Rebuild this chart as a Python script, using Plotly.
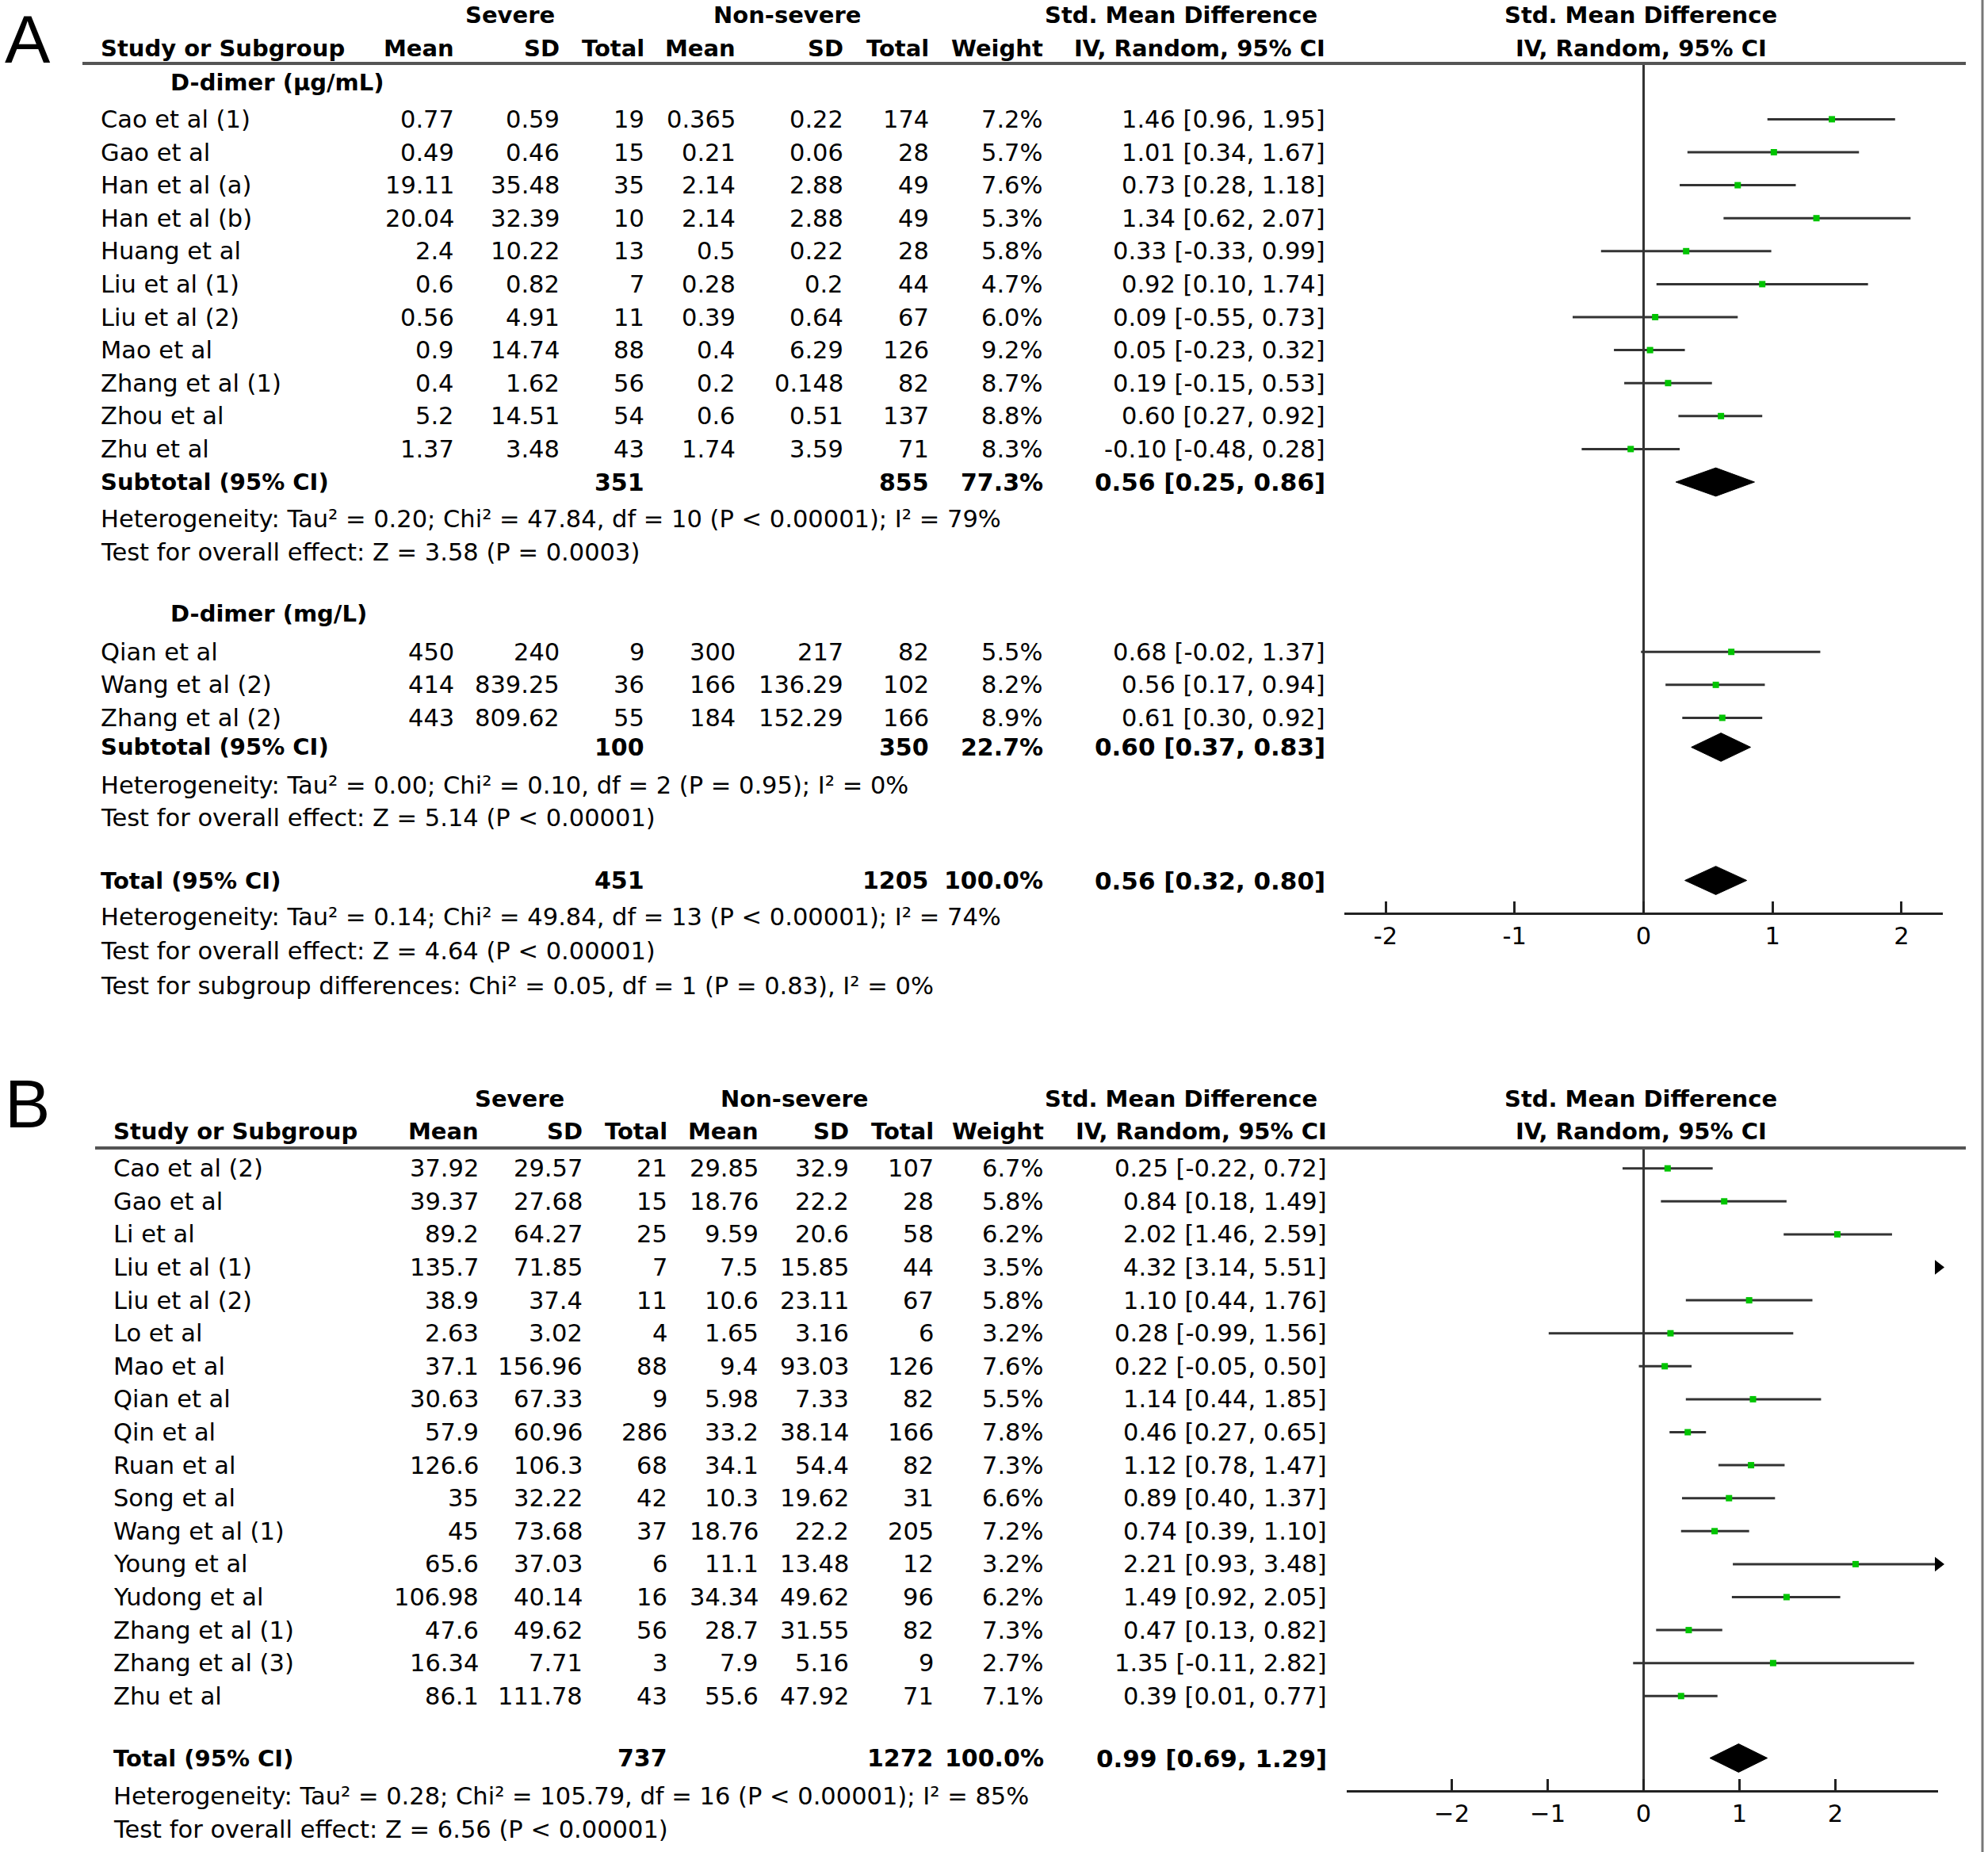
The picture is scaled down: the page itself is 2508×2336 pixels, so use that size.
import plotly.graph_objects as go

W, H = 2508, 2336
FONT = "DejaVu Sans"
FS = 30.5      # regular text
FSB = 29       # bold text

# ---------------- Panel A data : D-dimer ----------------
a1_study = ["Cao et al (1)", "Gao et al", "Han et al (a)", "Han et al (b)", "Huang et al",
            "Liu et al (1)", "Liu et al (2)", "Mao et al", "Zhang et al (1)", "Zhou et al", "Zhu et al"]
a1_sev_mean = [0.77, 0.49, 19.11, 20.04, 2.4, 0.6, 0.56, 0.9, 0.4, 5.2, 1.37]
a1_sev_sd = [0.59, 0.46, 35.48, 32.39, 10.22, 0.82, 4.91, 14.74, 1.62, 14.51, 3.48]
a1_sev_n = [19, 15, 35, 10, 13, 7, 11, 88, 56, 54, 43]
a1_non_mean = [0.365, 0.21, 2.14, 2.14, 0.5, 0.28, 0.39, 0.4, 0.2, 0.6, 1.74]
a1_non_sd = [0.22, 0.06, 2.88, 2.88, 0.22, 0.2, 0.64, 6.29, 0.148, 0.51, 3.59]
a1_non_n = [174, 28, 49, 49, 28, 44, 67, 126, 82, 137, 71]
a1_weight = [7.2, 5.7, 7.6, 5.3, 5.8, 4.7, 6.0, 9.2, 8.7, 8.8, 8.3]
a1_smd = [1.46, 1.01, 0.73, 1.34, 0.33, 0.92, 0.09, 0.05, 0.19, 0.60, -0.10]
a1_lo = [0.96, 0.34, 0.28, 0.62, -0.33, 0.10, -0.55, -0.23, -0.15, 0.27, -0.48]
a1_hi = [1.95, 1.67, 1.18, 2.07, 0.99, 1.74, 0.73, 0.32, 0.53, 0.92, 0.28]
a1_sub_n = [351, 855]
a1_sub_weight = 77.3
a1_sub_ci = [0.56, 0.25, 0.86]
a1_het = "Heterogeneity: Tau² = 0.20; Chi² = 47.84, df = 10 (P < 0.00001); I² = 79%"
a1_test = "Test for overall effect: Z = 3.58 (P = 0.0003)"

a2_study = ["Qian et al", "Wang et al (2)", "Zhang et al (2)"]
a2_sev_mean = [450, 414, 443]
a2_sev_sd = [240, 839.25, 809.62]
a2_sev_n = [9, 36, 55]
a2_non_mean = [300, 166, 184]
a2_non_sd = [217, 136.29, 152.29]
a2_non_n = [82, 102, 166]
a2_weight = [5.5, 8.2, 8.9]
a2_smd = [0.68, 0.56, 0.61]
a2_lo = [-0.02, 0.17, 0.30]
a2_hi = [1.37, 0.94, 0.92]
a2_sub_n = [100, 350]
a2_sub_weight = 22.7
a2_sub_ci = [0.60, 0.37, 0.83]
a2_het = "Heterogeneity: Tau² = 0.00; Chi² = 0.10, df = 2 (P = 0.95); I² = 0%"
a2_test = "Test for overall effect: Z = 5.14 (P < 0.00001)"

a_tot_n = [451, 1205]
a_tot_weight = 100.0
a_tot_ci = [0.56, 0.32, 0.80]
a_tot_text = ["Heterogeneity: Tau² = 0.14; Chi² = 49.84, df = 13 (P < 0.00001); I² = 74%",
              "Test for overall effect: Z = 4.64 (P < 0.00001)",
              "Test for subgroup differences: Chi² = 0.05, df = 1 (P = 0.83), I² = 0%"]
a_ticks = [-2, -1, 0, 1, 2]
a_ticktext = ["-2", "-1", "0", "1", "2"]

# ---------------- Panel B data ----------------
b_study = ["Cao et al (2)", "Gao et al", "Li et al", "Liu et al (1)", "Liu et al (2)", "Lo et al",
           "Mao et al", "Qian et al", "Qin et al", "Ruan et al", "Song et al", "Wang et al (1)",
           "Young et al", "Yudong et al", "Zhang et al (1)", "Zhang et al (3)", "Zhu et al"]
b_sev_mean = [37.92, 39.37, 89.2, 135.7, 38.9, 2.63, 37.1, 30.63, 57.9, 126.6, 35, 45,
              65.6, 106.98, 47.6, 16.34, 86.1]
b_sev_sd = [29.57, 27.68, 64.27, 71.85, 37.4, 3.02, 156.96, 67.33, 60.96, 106.3, 32.22, 73.68,
            37.03, 40.14, 49.62, 7.71, 111.78]
b_sev_n = [21, 15, 25, 7, 11, 4, 88, 9, 286, 68, 42, 37, 6, 16, 56, 3, 43]
b_non_mean = [29.85, 18.76, 9.59, 7.5, 10.6, 1.65, 9.4, 5.98, 33.2, 34.1, 10.3, 18.76,
              11.1, 34.34, 28.7, 7.9, 55.6]
b_non_sd = [32.9, 22.2, 20.6, 15.85, 23.11, 3.16, 93.03, 7.33, 38.14, 54.4, 19.62, 22.2,
            13.48, 49.62, 31.55, 5.16, 47.92]
b_non_n = [107, 28, 58, 44, 67, 6, 126, 82, 166, 82, 31, 205, 12, 96, 82, 9, 71]
b_weight = [6.7, 5.8, 6.2, 3.5, 5.8, 3.2, 7.6, 5.5, 7.8, 7.3, 6.6, 7.2, 3.2, 6.2, 7.3, 2.7, 7.1]
b_smd = [0.25, 0.84, 2.02, 4.32, 1.10, 0.28, 0.22, 1.14, 0.46, 1.12, 0.89, 0.74, 2.21, 1.49,
         0.47, 1.35, 0.39]
b_lo = [-0.22, 0.18, 1.46, 3.14, 0.44, -0.99, -0.05, 0.44, 0.27, 0.78, 0.40, 0.39, 0.93, 0.92,
        0.13, -0.11, 0.01]
b_hi = [0.72, 1.49, 2.59, 5.51, 1.76, 1.56, 0.50, 1.85, 0.65, 1.47, 1.37, 1.10, 3.48, 2.05,
        0.82, 2.82, 0.77]
b_tot_n = [737, 1272]
b_tot_weight = 100.0
b_tot_ci = [0.99, 0.69, 1.29]
b_tot_text = ["Heterogeneity: Tau² = 0.28; Chi² = 105.79, df = 16 (P < 0.00001); I² = 85%",
              "Test for overall effect: Z = 6.56 (P < 0.00001)"]
b_ticks = [-2, -1, 0, 1, 2]
b_ticktext = ["−2", "−1", "0", "1", "2"]

# ---------------- layout helpers ----------------
ROW = 41.6          # pixels per row
ORIGIN = 150.4      # pixel of first study row in panel A
A_RANGE = [-2.32, 2.32]
B_RANGE = [-3.096, 3.07]
A_DOM = [1696 / W, 2451 / W]
B_DOM = [1699 / W, 2445 / W]

def ypaper(row):
    return 1 - (ORIGIN + row * ROW) / H

# row positions (row units)
RA = dict(h1=-3.15, h2=-2.15, line=-1.69, sec1=-1.12, s1=0.0, sub1=11.0, het1=12.12,
          test1=13.12, sec2=15.0, s2=16.15, sub2=19.04, het2=20.19, test2=21.19,
          tot=23.08, tott=24.19, axis=24.08)
RB = dict(h1=29.69, h2=30.69, line=31.19, s=31.81, tot=49.69, tott=50.85, axis=50.69)

colA = [575, 708, 815, 930, 1066, 1174, 1318, 1674]
colB = [606, 737, 844, 959, 1073, 1180, 1319, 1676]
NAME_A, NAME_B, SEC_X = 125, 141, 213

ann = []

def txt(xpx, row, s, anchor="right", bold=False, size=None, family=FONT):
    if bold:
        s = "<b>" + s + "</b>"
    if size is None:
        size = FSB if bold else FS
    ann.append(dict(x=xpx / W, xref="paper", y=row, yref="y", text=s, showarrow=False,
                    xanchor=anchor, yanchor="middle",
                    font=dict(family=family, size=size, color="black")))

def ci(e, l, h):
    return f"{e:.2f} [{l:.2f}, {h:.2f}]"

def study_rows(cols, namex, r0, names, sm, ss, sn, nm, nsd, nn, w, e, l, h):
    for i in range(len(names)):
        r = r0 + i
        txt(namex, r, names[i], anchor="left")
        vals = [str(sm[i]), str(ss[i]), str(sn[i]), str(nm[i]), str(nsd[i]), str(nn[i]),
                f"{w[i]:.1f}%", ci(e[i], l[i], h[i])]
        for c, v in zip(cols, vals):
            txt(c, r, v)

def summary_row(cols, namex, r, label, n, w, c3):
    txt(namex, r, label, anchor="left", bold=True)
    txt(cols[2], r, str(n[0]), bold=True, size=30)
    txt(cols[5], r, str(n[1]), bold=True, size=30)
    txt(cols[6], r, f"{w:.1f}%", bold=True, size=30)
    txt(cols[7], r, ci(*c3), bold=True, size=31)

def header(cols, namex, r1, r2, sev_c, non_c, smd_c, fx):
    txt(sev_c, r1, "Severe", anchor="center", bold=True)
    txt(non_c, r1, "Non-severe", anchor="center", bold=True)
    txt(smd_c, r1, "Std. Mean Difference", anchor="center", bold=True)
    txt(fx, r1, "Std. Mean Difference", anchor="center", bold=True)
    txt(namex, r2, "Study or Subgroup", anchor="left", bold=True)
    for c, v in zip(cols, ["Mean", "SD", "Total", "Mean", "SD", "Total", "Weight",
                           "IV, Random, 95% CI"]):
        txt(c, r2, v, bold=True)
    txt(fx, r2, "IV, Random, 95% CI", anchor="center", bold=True)

# ---------------- panel A text ----------------
header(colA, NAME_A, RA["h1"], RA["h2"], 643, 993, 1490, 2070)
txt(SEC_X, RA["sec1"], "D-dimer (μg/mL)", anchor="left", bold=True)
study_rows(colA, NAME_A, RA["s1"], a1_study, a1_sev_mean, a1_sev_sd, a1_sev_n, a1_non_mean,
           a1_non_sd, a1_non_n, a1_weight, a1_smd, a1_lo, a1_hi)
summary_row(colA, NAME_A, RA["sub1"], "Subtotal (95% CI)", a1_sub_n, a1_sub_weight, a1_sub_ci)
txt(NAME_A, RA["het1"], a1_het, anchor="left")
txt(NAME_A, RA["test1"], a1_test, anchor="left")
txt(SEC_X, RA["sec2"], "D-dimer (mg/L)", anchor="left", bold=True)
study_rows(colA, NAME_A, RA["s2"], a2_study, a2_sev_mean, a2_sev_sd, a2_sev_n, a2_non_mean,
           a2_non_sd, a2_non_n, a2_weight, a2_smd, a2_lo, a2_hi)
summary_row(colA, NAME_A, RA["sub2"], "Subtotal (95% CI)", a2_sub_n, a2_sub_weight, a2_sub_ci)
txt(NAME_A, RA["het2"], a2_het, anchor="left")
txt(NAME_A, RA["test2"], a2_test, anchor="left")
summary_row(colA, NAME_A, RA["tot"], "Total (95% CI)", a_tot_n, a_tot_weight, a_tot_ci)
for k, s in enumerate(a_tot_text):
    txt(NAME_A, RA["tott"] + k * 1.04, s, anchor="left")

# ---------------- panel B text ----------------
header(colB, NAME_B, RB["h1"], RB["h2"], 655, 1002, 1490, 2070)
study_rows(colB, NAME_B, RB["s"], b_study, b_sev_mean, b_sev_sd, b_sev_n, b_non_mean,
           b_non_sd, b_non_n, b_weight, b_smd, b_lo, b_hi)
summary_row(colB, NAME_B, RB["tot"], "Total (95% CI)", b_tot_n, b_tot_weight, b_tot_ci)
for k, s in enumerate(b_tot_text):
    txt(NAME_B, RB["tott"] + k * 1.0, s, anchor="left")

# panel letters
ann.append(dict(x=35 / W, xref="paper", y=1.0, yref="paper", text="A", showarrow=False,
                xanchor="center", yanchor="top", borderpad=0,
                font=dict(family="Liberation Sans", size=86, color="black")))
ann.append(dict(x=34 / W, xref="paper", y=1 - 1392 / H, yref="paper", text="B",
                showarrow=False, xanchor="center", yanchor="middle",
                font=dict(family="Liberation Sans", size=86, color="black")))

# ---------------- forest traces ----------------
fig = go.Figure()
LINE_C = "#333333"
GREEN = "#00c400"

def forest(xa, r0, est, lo, hi, xr):
    xs, ys, px, py, ax, ay = [], [], [], [], [], []
    for i in range(len(est)):
        r = r0 + i
        l, h = max(lo[i], xr[0]), min(hi[i], xr[1])
        if l < h:
            xs += [l, h, None]
            ys += [r, r, None]
        if xr[0] <= est[i] <= xr[1]:
            px.append(est[i]); py.append(r)
        if hi[i] > xr[1]:
            ax.append(xr[1]); ay.append(r)
    fig.add_trace(go.Scatter(x=xs, y=ys, mode="lines", line=dict(color=LINE_C, width=3),
                             xaxis=xa, yaxis="y", hoverinfo="skip"))
    fig.add_trace(go.Scatter(x=px, y=py, mode="markers",
                             marker=dict(symbol="square", size=8, color=GREEN),
                             xaxis=xa, yaxis="y", hoverinfo="skip"))
    if ax:
        fig.add_trace(go.Scatter(x=ax, y=ay, mode="markers", cliponaxis=False,
                                 marker=dict(symbol="triangle-right", size=16, color="black",
                                             line=dict(width=0)),
                                 xaxis=xa, yaxis="y", hoverinfo="skip"))

def diamond(xa, r, c3, hh=0.43):
    e, l, h = c3
    fig.add_trace(go.Scatter(x=[l, e, h, e, l], y=[r, r - hh, r, r + hh, r], mode="lines",
                             fill="toself", fillcolor="black", line=dict(color="black", width=1),
                             xaxis=xa, yaxis="y", hoverinfo="skip"))

def zeroline(xa, r1, r2):
    fig.add_trace(go.Scatter(x=[0, 0], y=[r1, r2], mode="lines",
                             line=dict(color=LINE_C, width=3), xaxis=xa, yaxis="y",
                             hoverinfo="skip"))

zeroline("x", RA["line"], RA["axis"])
forest("x", RA["s1"], a1_smd, a1_lo, a1_hi, A_RANGE)
forest("x", RA["s2"], a2_smd, a2_lo, a2_hi, A_RANGE)
diamond("x", RA["sub1"], a1_sub_ci)
diamond("x", RA["sub2"], a2_sub_ci)
diamond("x", RA["tot"], a_tot_ci)

zeroline("x2", RB["line"], RB["axis"])
forest("x2", RB["s"], b_smd, b_lo, b_hi, B_RANGE)
diamond("x2", RB["tot"], b_tot_ci)

# ---------------- shapes ----------------
shapes = [
    dict(type="line", xref="paper", yref="paper", x0=104 / W, x1=2480 / W,
         y0=ypaper(RA["line"]), y1=ypaper(RA["line"]), line=dict(color="#555555", width=4)),
    dict(type="line", xref="paper", yref="paper", x0=120 / W, x1=2480 / W,
         y0=ypaper(RB["line"]), y1=ypaper(RB["line"]), line=dict(color="#555555", width=4)),
    dict(type="line", xref="paper", yref="paper", x0=2501 / W, x1=2501 / W, y0=0, y1=1,
         line=dict(color="#777777", width=3)),
]

axis_common = dict(showgrid=False, zeroline=False, showline=True, linecolor="#222222",
                   linewidth=3, ticks="inside", ticklen=14, tickwidth=3, tickcolor="#222222",
                   tickfont=dict(family=FONT, size=FS, color="black"), anchor="free",
                   fixedrange=True)

fig.update_layout(
    width=W, height=H, margin=dict(l=0, r=0, t=0, b=0),
    paper_bgcolor="white", plot_bgcolor="rgba(0,0,0,0)", showlegend=False,
    xaxis=dict(domain=A_DOM, range=A_RANGE, tickvals=a_ticks, ticktext=a_ticktext,
               position=ypaper(RA["axis"]), **axis_common),
    xaxis2=dict(domain=B_DOM, range=B_RANGE, tickvals=b_ticks, ticktext=b_ticktext,
                position=ypaper(RB["axis"]), **axis_common),
    yaxis=dict(domain=[0, 1], range=[(H - ORIGIN) / ROW, -ORIGIN / ROW], visible=False,
               fixedrange=True),
    annotations=ann, shapes=shapes,
)

fig.write_html("out.html", config={"displayModeBar": False},
               post_script="document.body.style.margin='0px';")
